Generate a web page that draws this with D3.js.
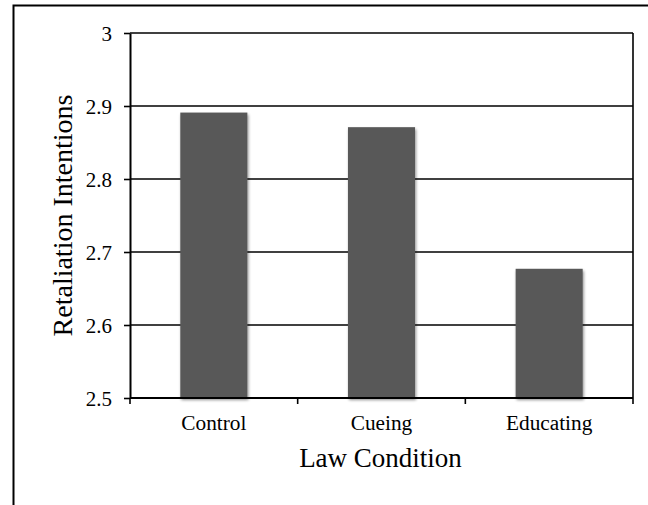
<!DOCTYPE html>
<html><head><meta charset="utf-8">
<script src="https://cdn.jsdelivr.net/npm/d3@7"></script>
<style>body{margin:0;background:#fff;}svg{display:block;} text{font-family:"Liberation Serif","Times New Roman",serif;}</style>
</head><body>
<script>
const categories = ["Control", "Cueing", "Educating"];
const values = [2.891, 2.871, 2.677];
const yTicks = [2.5, 2.6, 2.7, 2.8, 2.9, 3];

const W = 648, H = 505;
const m = {left: 130, top: 33, right: 15, bottom: 107};
const iw = W - m.left - m.right, ih = H - m.top - m.bottom;

const svg = d3.select("body").append("svg").attr("width", W).attr("height", H);
const defs = svg.append("defs");
const f = defs.append("filter").attr("id", "sh").attr("x", "-20%").attr("y", "-20%").attr("width", "140%").attr("height", "140%");
f.append("feGaussianBlur").attr("in", "SourceAlpha").attr("stdDeviation", 1.5).attr("result", "b");
f.append("feOffset").attr("in", "b").attr("dx", 1).attr("dy", 1.5).attr("result", "o");
f.append("feComponentTransfer").attr("in", "o").attr("result", "o2").append("feFuncA").attr("type", "linear").attr("slope", 0.45);
const mg = f.append("feMerge");
mg.append("feMergeNode").attr("in", "o2");
mg.append("feMergeNode").attr("in", "SourceGraphic");

// outer frame (left + top)
svg.append("path").attr("d", `M13.5,${H} L13.5,5.5 L${W},5.5`).attr("fill", "none").attr("stroke", "#000").attr("stroke-width", 2);

const g = svg.append("g").attr("transform", `translate(${m.left},${m.top})`);
const x = d3.scaleBand().domain(categories).range([0, iw]).paddingInner(0.6).paddingOuter(0.3);
const xb = d3.scaleBand().domain(categories).range([0, iw]);
const y = d3.scaleLinear().domain([2.5, 3]).range([ih, 0]);

// gridlines
g.selectAll(".grid").data(yTicks).join("line")
  .attr("x1", 0).attr("x2", iw).attr("y1", d => y(d)).attr("y2", d => y(d))
  .attr("stroke", "#000").attr("stroke-width", 1.6);

// bars
g.selectAll(".bar").data(values).join("rect")
  .attr("x", (d, i) => x(categories[i])).attr("width", x.bandwidth())
  .attr("y", d => y(d)).attr("height", d => ih - y(d))
  .attr("fill", "#595959").attr("filter", "url(#sh)");

// right border
g.append("line").attr("x1", iw).attr("x2", iw).attr("y1", 0).attr("y2", ih).attr("stroke", "#000").attr("stroke-width", 1.6);

// y axis
const ya = g.append("g").call(d3.axisLeft(y).tickValues(yTicks).tickSize(6).tickSizeOuter(0).tickFormat(d3.format("")));
ya.attr("font-family", null).attr("font-size", null);
ya.select(".domain").attr("stroke-width", 2);
ya.selectAll(".tick line").attr("stroke-width", 1.6);
ya.selectAll("text").style("font-family", "'Liberation Serif', serif").style("font-size", "21px").attr("fill", "#000").attr("x", -18).attr("dy", "0.35em");

// x axis
const xa = g.append("g").attr("transform", `translate(0,${ih})`);
xa.append("line").attr("x1", 0).attr("x2", iw).attr("stroke", "#000").attr("stroke-width", 2.2);
const edges = [0, ...categories.map(c => xb(c) + xb.bandwidth())];
xa.selectAll(".xt").data(edges).join("line")
  .attr("x1", d => d).attr("x2", d => d).attr("y1", 0).attr("y2", 6).attr("stroke", "#000").attr("stroke-width", 1.6);
xa.selectAll(".xl").data(categories).join("text")
  .attr("x", d => xb(d) + xb.bandwidth() / 2).attr("y", 32)
  .attr("text-anchor", "middle").style("font-size", "21.3px").text(d => d);

// axis titles
svg.append("text").attr("x", m.left + iw / 2 - 1).attr("y", 467).attr("text-anchor", "middle")
  .style("font-size", "27px").text("Law Condition");
svg.append("text").attr("transform", `translate(72,${m.top + ih / 2}) rotate(-90)`).attr("text-anchor", "middle")
  .style("font-size", "28px").text("Retaliation Intentions");
</script>
</body></html>
